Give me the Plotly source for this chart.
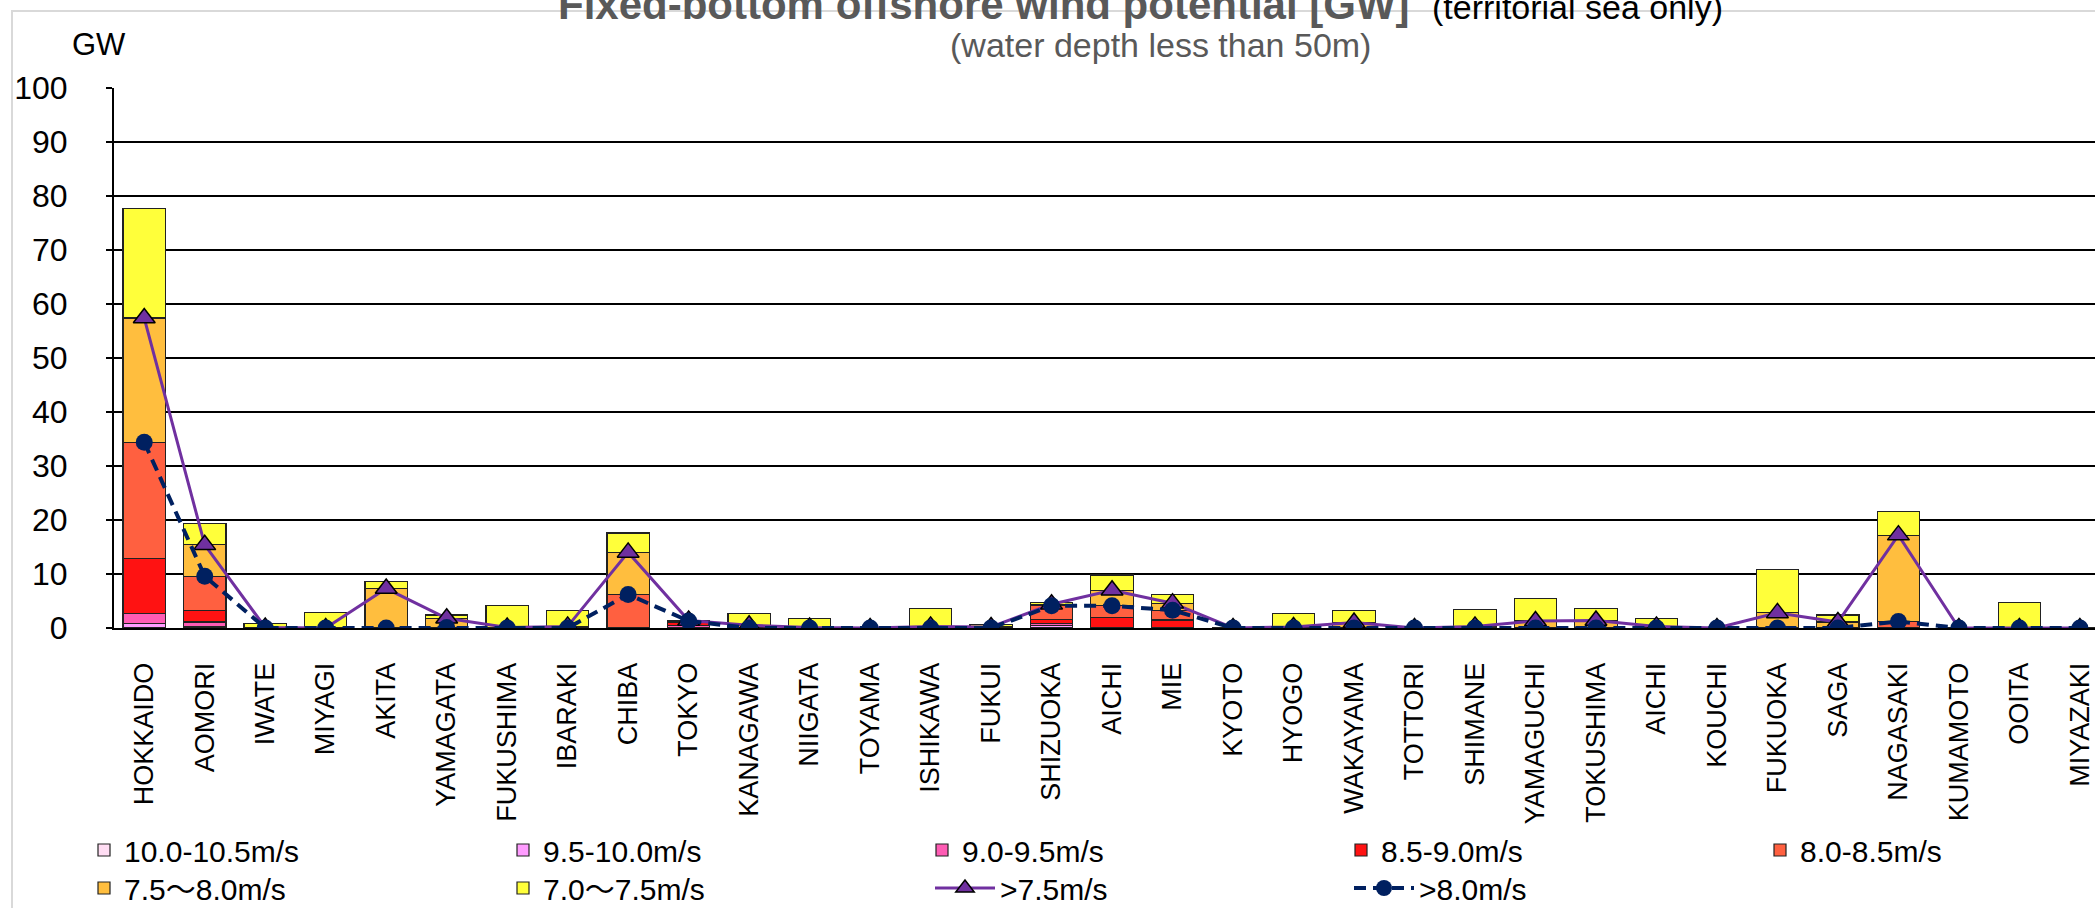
import plotly.graph_objects as go

# ---------------- data ----------------
PREFECTURES = [
    "HOKKAIDO", "AOMORI", "IWATE", "MIYAGI", "AKITA", "YAMAGATA", "FUKUSHIMA",
    "IBARAKI", "CHIBA", "TOKYO", "KANAGAWA", "NIIGATA", "TOYAMA", "ISHIKAWA",
    "FUKUI", "SHIZUOKA", "AICHI", "MIE", "KYOTO", "HYOGO", "WAKAYAMA", "TOTTORI",
    "SHIMANE", "YAMAGUCHI", "TOKUSHIMA", "AICHI", "KOUCHI", "FUKUOKA", "SAGA",
    "NAGASAKI", "KUMAMOTO", "OOITA", "MIYAZAKI",
]

WS_10_0_10_5 = [0.1, 0, 0, 0, 0, 0, 0, 0, 0, 0, 0, 0, 0, 0, 0, 0.1, 0, 0, 0, 0, 0, 0,
                0, 0, 0, 0, 0, 0, 0, 0, 0, 0, 0]
WS_9_5_10_0 = [0.7, 0.2, 0, 0, 0, 0, 0, 0, 0, 0.1, 0, 0, 0, 0, 0, 0.3, 0, 0, 0, 0, 0, 0,
               0, 0, 0, 0, 0, 0, 0, 0, 0, 0, 0]
WS_9_0_9_5 = [1.9, 0.9, 0, 0, 0, 0, 0, 0, 0, 0.4, 0, 0, 0, 0, 0, 0.4, 0, 0, 0, 0, 0, 0,
              0, 0, 0, 0, 0, 0, 0, 0, 0, 0, 0]
WS_8_5_9_0 = [10.1, 2.1, 0, 0, 0, 0, 0, 0, 0, 0.6, 0, 0, 0, 0, 0, 0.8, 2.0, 1.5, 0, 0, 0, 0,
              0, 0, 0, 0, 0, 0, 0, 0, 0, 0, 0]
WS_8_0_8_5 = [21.6, 6.4, 0, 0, 0, 0.1, 0, 0, 6.2, 0.2, 0, 0, 0, 0, 0, 2.5, 2.1, 1.8, 0, 0, 0, 0,
              0, 0, 0, 0, 0, 0, 0, 1.2, 0, 0, 0]
WS_7_5_8_0 = [23.0, 5.8, 0.1, 0, 7.3, 1.7, 0.1, 0.3, 7.8, 0.1, 0.5, 0.1, 0, 0.3, 0.2, 0.3, 2.9, 1.3,
              0, 0.2, 1.0, 0, 0.3, 1.3, 1.4, 0.3, 0, 2.8, 1.1, 16.0, 0, 0, 0]
WS_7_0_7_5 = [20.3, 3.9, 0.7, 2.9, 1.3, 0.6, 4.1, 3.0, 3.6, 0, 2.2, 1.7, 0, 3.3, 0.5, 0.35, 2.8, 1.6,
              0, 2.5, 2.2, 0, 3.1, 4.2, 2.2, 1.5, 0, 8.0, 1.3, 4.4, 0, 4.7, 0]

OVER_7_5 = [57.4, 15.4, 0.1, 0, 7.3, 1.8, 0.1, 0.3, 14.0, 1.4, 0.5, 0.1, 0, 0.3, 0.2, 4.4, 7.0, 4.6,
            0, 0.2, 1.0, 0, 0.3, 1.3, 1.4, 0.3, 0, 2.8, 1.1, 17.2, 0, 0, 0]
OVER_8_0 = [34.4, 9.6, 0, 0, 0, 0.1, 0, 0, 6.2, 1.3, 0, 0, 0, 0, 0, 4.1, 4.1, 3.3,
            0, 0, 0, 0, 0, 0, 0, 0, 0, 0, 0, 1.2, 0, 0, 0]

BAR_NAMES = ["10.0-10.5m/s", "9.5-10.0m/s", "9.0-9.5m/s", "8.5-9.0m/s", "8.0-8.5m/s",
             "7.5〜8.0m/s", "7.0〜7.5m/s"]
BAR_VALUES = [WS_10_0_10_5, WS_9_5_10_0, WS_9_0_9_5, WS_8_5_9_0, WS_8_0_8_5,
              WS_7_5_8_0, WS_7_0_7_5]
LINE_NAMES = [">7.5m/s", ">8.0m/s"]
Y_TICKS = [0, 10, 20, 30, 40, 50, 60, 70, 80, 90, 100]

# ---------------- style ----------------
BAR_COLORS = ["#FFDDF3", "#FF9CFF", "#FF5CB4", "#FF1212", "#FF6040", "#FFBE3E", "#FFFF3A"]
BAR_LEGEND = ["legend", "legend", "legend", "legend", "legend", "legend2", "legend2"]
BAR_LEGENDWIDTH = [374, 374, 374, 374, 240, 374, 240]
PURPLE = "#7030A0"
NAVY = "#002060"
NARROW = "Liberation Sans Narrow, Arial Narrow, Liberation Sans, Noto Sans CJK JP, sans-serif"
SANS = "Liberation Sans, Arial, sans-serif"

W, H = 2095, 908
ML, MT, MB = 114, 88, 280
PW, PH = W - ML, H - MT - MB


def px_x(px):
    return (px - ML) / PW


def px_y(py):
    return (H - MB - py) / PH


xpos = list(range(len(PREFECTURES)))

fig = go.Figure()
for name, vals, col, lg, lw in zip(BAR_NAMES, BAR_VALUES, BAR_COLORS, BAR_LEGEND, BAR_LEGENDWIDTH):
    fig.add_trace(go.Bar(
        x=xpos, y=vals, name=name, legend=lg, legendwidth=lw,
        marker=dict(color=col, line=dict(color="#222222", width=1.2)),
    ))

fig.add_trace(go.Scatter(
    x=xpos, y=OVER_7_5, name=LINE_NAMES[0], mode="lines+markers", legend="legend3",
    legendwidth=344,
    line=dict(color=PURPLE, width=3),
    marker=dict(symbol="triangle-up", size=19, color=PURPLE, line=dict(color="#000000", width=1.5)),
))
fig.add_trace(go.Scatter(
    x=xpos, y=OVER_8_0, name=LINE_NAMES[1], mode="lines+markers", legend="legend3",
    legendwidth=200,
    line=dict(color=NAVY, width=4, dash="12px,7px"),
    marker=dict(symbol="circle", size=17, color=NAVY, line=dict(color=NAVY, width=0)),
))

legend_common = dict(orientation="h", xanchor="left", yanchor="middle", traceorder="normal",
                     bgcolor="rgba(0,0,0,0)", borderwidth=0,
                     font=dict(family=NARROW, size=30, color="#000000"))

fig.update_layout(
    width=W, height=H,
    margin=dict(l=ML, r=0, t=MT, b=MB, autoexpand=False),
    paper_bgcolor="white", plot_bgcolor="white",
    barmode="stack", bargap=0.3,
    legend=dict(x=px_x(84), y=px_y(850), **legend_common),
    legend2=dict(x=px_x(84), y=px_y(888), **legend_common),
    legend3=dict(x=px_x(930), y=px_y(888), itemwidth=60, **legend_common),
    xaxis=dict(
        range=[-0.5, (W - ML) / (PW / 32.75) - 0.5],
        tickmode="array", tickvals=xpos, ticktext=PREFECTURES, tickangle=-90,
        tickfont=dict(family=SANS, size=27, color="#000000"),
        showline=True, linecolor="#000000", linewidth=2, ticks="",
        ticklabelstandoff=22, showgrid=False, zeroline=False,
    ),
    yaxis=dict(
        range=[0, 100], tickmode="array", tickvals=Y_TICKS,
        tickfont=dict(family=NARROW, size=32, color="#000000"),
        showline=True, linecolor="#000000", linewidth=2,
        ticks="outside", ticklen=6, tickcolor="#000000", tickwidth=2,
        ticklabelstandoff=32,
        showgrid=True, gridcolor="#000000", gridwidth=2, zeroline=False,
    ),
    shapes=[dict(type="rect", xref="paper", yref="paper", layer="below",
                 x0=px_x(12), x1=1.05, y0=-0.8, y1=px_y(11),
                 line=dict(color="#D9D9D9", width=2), fillcolor="rgba(0,0,0,0)")],
    annotations=[
        dict(text="<b>Fixed-bottom offshore wind potential [GW]</b>", xref="paper", yref="paper",
             x=px_x(556), y=px_y(4), xanchor="left", yanchor="middle", showarrow=False,
             font=dict(family=SANS, size=42, color="#595959")),
        dict(text="(territorial sea only)", xref="paper", yref="paper",
             x=px_x(1430), y=px_y(7), xanchor="left", yanchor="middle", showarrow=False,
             font=dict(family=SANS, size=34, color="#000000")),
        dict(text="(water depth less than 50m)", xref="paper", yref="paper",
             x=px_x(1160), y=px_y(45), xanchor="center", yanchor="middle", showarrow=False,
             font=dict(family=SANS, size=34, color="#595959")),
        dict(text="GW", xref="paper", yref="paper",
             x=px_x(99), y=px_y(45), xanchor="center", yanchor="middle", showarrow=False,
             font=dict(family=NARROW, size=31, color="#000000")),
    ],
)

fig.write_html("out.html", config={"displayModeBar": False},
               post_script="document.body.style.margin='0px';")
